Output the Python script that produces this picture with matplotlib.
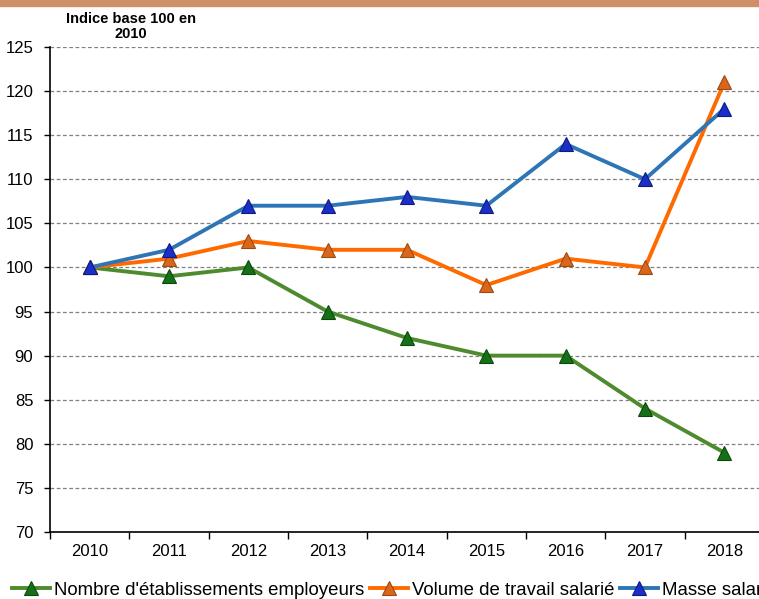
import numpy as np
import matplotlib
matplotlib.use("Agg")
import matplotlib.pyplot as plt
from matplotlib.patches import Rectangle

plt.rcParams['font.family'] = ['Liberation Sans', 'DejaVu Sans']

# data
years = ['2010', '2011', '2012', '2013', '2014', '2015', '2016', '2017', '2018']
etablissements = [100, 99, 100, 95, 92, 90, 90, 84, 79]
volume_travail = [100, 101, 103, 102, 102, 98, 101, 100, 121]
masse_salariale = [100, 102, 107, 107, 108, 107, 114, 110, 118]

series_names = ["Nombre d'établissements employeurs",
                "Volume de travail salarié",
                "Masse salariale"]

fig = plt.figure(figsize=(7.59, 5.99), dpi=100)
ax = fig.add_axes([50 / 759, 67 / 599, 714 / 759, 485 / 599])

# orange band at the top of the page
fig.patches.append(Rectangle((0, 593 / 599), 1, 6 / 599, transform=fig.transFigure,
                             color='#CD9068', zorder=0))

x = np.arange(len(years))
styles = [
    (etablissements, '#4E8A2E', '#16701A', '#0B4A0B'),
    (volume_travail, '#FF6A00', '#D9661A', '#9A4A14'),
    (masse_salariale, '#2E75B6', '#1A2FC8', '#101A80'),
]
for (vals, lc, mc, ec), name in zip(styles, series_names):
    ax.plot(x, vals, color=lc, lw=2.8, marker='^', markersize=10.5,
            markerfacecolor=mc, markeredgecolor=ec, markeredgewidth=0.8,
            label=name, zorder=3)

ax.set_xlim(-0.5, 8.5)
ax.set_ylim(70, 125)
ax.set_yticks(np.arange(70, 126, 5))
ax.set_xticks(x)
ax.set_xticklabels(years)
ax.set_xticks(np.arange(-0.5, 9, 1), minor=True)
ax.tick_params(axis='x', which='major', length=0, pad=9, labelsize=12)
ax.tick_params(axis='x', which='minor', length=5, width=1, direction='out')
ax.tick_params(axis='y', length=4, width=1, direction='out', labelsize=12, pad=8)

ax.yaxis.grid(True, linestyle=(0, (3, 2)), color='#808080', lw=0.9)
ax.set_axisbelow(True)
for side in ['top', 'right']:
    ax.spines[side].set_visible(False)
for side in ['left', 'bottom']:
    ax.spines[side].set_linewidth(1.2)

fig.text(131 / 759, 1 - 26.5 / 599, 'Indice base 100 en\n2010', ha='center', va='center',
         fontsize=10.5, fontweight='bold', linespacing=1.15)

ax.legend(loc='center left', bbox_to_anchor=((12 - 50) / 714, -58 / 485), ncol=3,
          frameon=False, fontsize=13.4, handlelength=2.05, handletextpad=0.2,
          columnspacing=0.3, borderpad=0, borderaxespad=0)

fig.savefig('out.png', dpi=100)
